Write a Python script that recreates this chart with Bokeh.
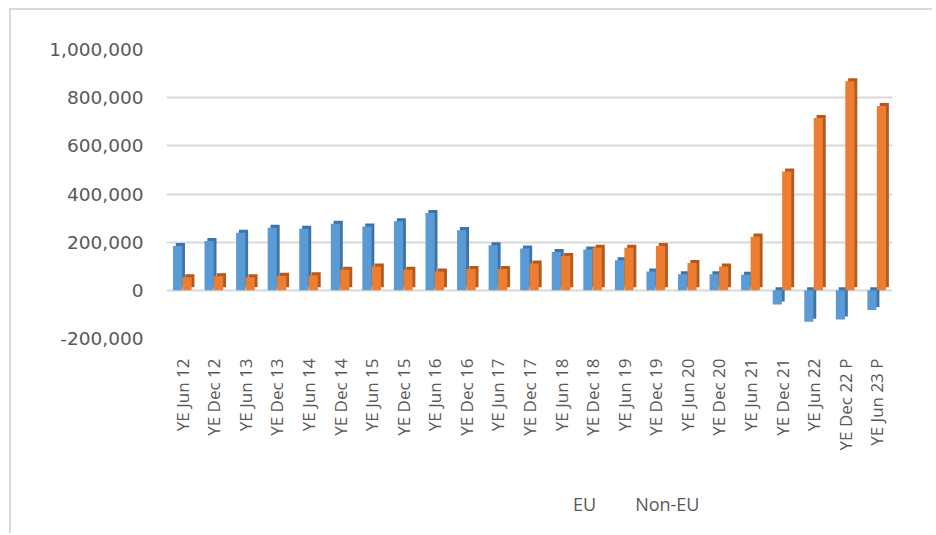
import numpy as np
from bokeh.plotting import figure
from bokeh.layouts import column
from bokeh.models import (ColumnDataSource, FactorRange, Range1d, FixedTicker,
                          NumeralTickFormatter, Legend, LegendItem)
from bokeh.transform import dodge
from bokeh.embed import file_html
from bokeh.resources import INLINE

categories = ["YE Jun 12", "YE Dec 12", "YE Jun 13", "YE Dec 13", "YE Jun 14",
              "YE Dec 14", "YE Jun 15", "YE Dec 15", "YE Jun 16", "YE Dec 16",
              "YE Jun 17", "YE Dec 17", "YE Jun 18", "YE Dec 18", "YE Jun 19",
              "YE Dec 19", "YE Jun 20", "YE Dec 20", "YE Jun 21", "YE Dec 21",
              "YE Jun 22", "YE Dec 22 P", "YE Jun 23 P"]
eu = [184000, 205000, 239000, 260000, 256000, 276000, 265000, 287000, 321000,
      250000, 187000, 174000, 159000, 170000, 125000, 78000, 67000, 67000,
      65000, -59000, -130000, -121000, -82000]
non_eu = [54000, 58000, 54000, 60000, 63000, 85000, 99000, 85000, 78000,
          89000, 89000, 111000, 143000, 177000, 177000, 184000, 113000, 99000,
          223000, 493000, 716000, 868000, 765000]
y_ticks = [-200000, 0, 200000, 400000, 600000, 800000, 1000000]
series_names = ["EU", "Non-EU"]

DEPTH = 12500  # vertical shift of the 3-D side face (data units)

def faces(vals):
    v = np.array(vals, dtype=float)
    return np.maximum(v, 0), np.minimum(v, 0)

eu_top, eu_bot = faces(eu)
ne_top, ne_bot = faces(non_eu)
src = ColumnDataSource(dict(
    cat=categories,
    eu_top=eu_top, eu_bot=eu_bot,
    eu_top_s=eu_top + DEPTH, eu_bot_s=eu_bot + DEPTH,
    ne_top=ne_top, ne_bot=ne_bot,
    ne_top_s=ne_top + DEPTH, ne_bot_s=ne_bot + DEPTH,
))

p = figure(x_range=FactorRange(*categories), y_range=Range1d(-200000, 1000000),
           frame_width=726, frame_height=289, output_backend="svg",
           toolbar_location=None,
           min_border_left=155, min_border_right=40, min_border_top=39,
           min_border_bottom=0)
p.outline_line_color = None
p.background_fill_color = "white"
p.border_fill_color = "white"

BLUE, BLUE_D = "#5B9BD5", "#3F74A8"
ORANGE, ORANGE_D = "#ED7D31", "#B35A1F"
W = 0.29
SH = 0.09

p.vbar(x=dodge("cat", -0.15 + SH, range=p.x_range), top="eu_top_s", bottom="eu_bot_s",
       width=W, source=src, fill_color=BLUE_D, line_color=None)
p.vbar(x=dodge("cat", 0.15 + SH, range=p.x_range), top="ne_top_s", bottom="ne_bot_s",
       width=W, source=src, fill_color=ORANGE_D, line_color=None)
p.vbar(x=dodge("cat", -0.15, range=p.x_range), top="eu_top", bottom="eu_bot",
       width=W, source=src, fill_color=BLUE, line_color=None)
p.vbar(x=dodge("cat", 0.15, range=p.x_range), top="ne_top", bottom="ne_bot",
       width=W, source=src, fill_color=ORANGE, line_color=None)

for ax in (p.xaxis[0], p.yaxis[0]):
    ax.axis_line_color = None
    ax.major_tick_line_color = None
    ax.minor_tick_line_color = None
    ax.major_tick_out = 0
    ax.major_tick_in = 0
    ax.minor_tick_out = 0
    ax.major_label_text_color = "#595959"

p.yaxis.ticker = FixedTicker(ticks=y_ticks)
p.yaxis.formatter = NumeralTickFormatter(format="0,0")
p.yaxis.major_label_standoff = 23
p.yaxis.major_label_text_font = "DejaVu Sans"
p.yaxis.major_label_text_font_size = "18.5px"

p.xaxis.major_label_orientation = np.pi / 2
p.xaxis.major_label_standoff = 20
p.xaxis.major_label_text_font = "Open Sans"
p.xaxis.major_label_text_font_size = "17px"

p.xgrid.grid_line_color = None
p.ygrid.ticker = FixedTicker(ticks=y_ticks)
p.ygrid.grid_line_color = "#D9D9D9"
p.ygrid.grid_line_width = 2

# legend strip (separate small figure below the chart)
lg = figure(width=921, height=80, output_backend="svg", toolbar_location=None,
            x_range=Range1d(0, 1), y_range=Range1d(0, 1),
            x_axis_location=None, y_axis_location=None, min_border=0)
lg.outline_line_color = None
lg.xgrid.grid_line_color = None
lg.ygrid.grid_line_color = None
lg.background_fill_color = "white"
lg.border_fill_color = "white"
k_eu = lg.vbar(x=[], top=[], width=0.1, fill_color=BLUE, line_color=None)
k_ne = lg.vbar(x=[], top=[], width=0.1, fill_color=ORANGE, line_color=None)

legend = Legend(items=[LegendItem(label=series_names[0], renderers=[k_eu]),
                       LegendItem(label=series_names[1], renderers=[k_ne])],
                orientation="horizontal", location=(390, 17))
legend.label_text_font = "Open Sans"
legend.label_text_font_size = "18px"
legend.label_text_color = "#595959"
legend.glyph_width = 11
legend.glyph_height = 11
legend.label_standoff = 6
legend.spacing = 22
legend.border_line_color = None
legend.background_fill_alpha = 0
legend.margin = 0
legend.padding = 4
lg.add_layout(legend, "center")

layout = column(p, lg, spacing=0)
layout.styles = {"margin-left": "9px", "margin-top": "8px",
                 "border-left": "2px solid #D9D9D9", "border-top": "2px solid #D9D9D9"}

open("out.html", "w").write(file_html(layout, INLINE))
